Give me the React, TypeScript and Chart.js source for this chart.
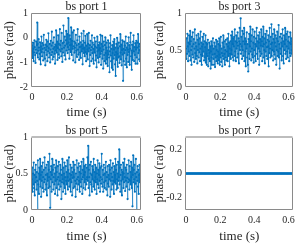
import { useEffect, useRef } from "react";
import { Chart, registerables } from "chart.js";

Chart.register(...registerables);

// ---- data ----
const SAMPLE_STEP_S = 0.002;
const X_MAX = 0.625;
const X_TICKS = [0, 0.2, 0.4, 0.6];

const TITLES = ["bs port 1", "bs port 3", "bs port 5", "bs port 7"];
const X_LABEL = "time (s)";
const Y_LABEL = "phase (rad)";

const PORT1 = [
  -0.3, -0.55, -0.82, -0.2, -0.45, -0.95, -0.6, -0.1, -0.38, -0.7,
  -1.02, -0.48, -0.15, -0.62, -0.3, 0.62, -0.25, -0.8, -0.52, -0.05,
  -0.4, -0.88, -0.65, -0.18, -0.5, -1.08, -0.35, 0.05, -0.58, -0.75,
  -0.22, -0.45, -0.92, -0.3, 0.12, -0.6, -0.4, -0.85, -1.12, -0.28,
  -0.5, -0.08, -0.7, -0.35, -0.95, -0.15, -0.55, 0.18, -0.42, -0.8,
  -0.62, -0.25, -1.0, -0.48, -0.12, -0.7, -0.32, 0.25, -0.58, -0.88,
  -0.2, -0.45, -0.78, 0.02, -0.38, -0.65, -1.05, -0.28, -0.52, 0.3,
  -0.35, -0.6, -0.15, -0.9, -0.42, 0.1, -0.68, -0.25, -0.82, -0.48,
  0.35, -0.3, -0.55, -0.12, -0.75, 0.2, -0.45, -0.98, -0.22, -0.6,
  0.5, -0.18, -0.4, -0.72, 0.05, -0.32, -0.88, -0.1, 0.28, -0.52,
  -0.25, 0.15, -0.62, -0.38, 0.8, -0.2, -0.48, -0.85, 0.1, -0.3,
  -0.05, -0.58, 0.42, -0.28, -0.7, -0.12, 0.22, -0.45, -0.92, -0.35,
  0.3, -0.15, -0.6, -0.4, -1.0, -0.22, 0.12, -0.52, -0.3, -0.78,
  -0.1, 0.35, -0.48, -0.68, -0.25, -0.9, 0.05, -0.38, -0.6, -0.18,
  -0.82, -0.35, 0.18, -0.55, -0.28, -1.08, -0.45, -0.12, 0.28, -0.62,
  -0.4, -0.75, -0.2, 0.08, -0.58, -0.95, -0.32, -0.65, 0.15, -0.48,
  -0.88, -0.25, -0.55, 0.2, -0.42, -1.15, -0.3, -0.7, -0.12, -0.5,
  -0.95, -0.38, 0.1, -0.62, -0.2, -0.85, -0.45, -1.05, -0.28, 0.0,
  -0.6, -0.35, -0.92, -0.15, -0.72, -1.2, -0.4, 0.05, -0.55, -0.82,
  -0.3, -1.0, -0.5, -0.18, -0.78, -0.42, 0.12, -0.65, -1.1, -0.25,
  -0.55, 0.08, -0.85, -0.35, -1.25, -0.48, -0.15, -0.7, -0.95, -0.3,
  0.02, -0.62, -1.05, -0.4, -0.2, -0.88, -0.52, -1.15, -0.1, -0.68,
  -0.38, -0.8, -1.4, -0.55, -0.22, 0.1, -0.72, -0.95, -0.45, -1.22,
  -0.3, -0.62, -1.3, -0.15, -0.85, -0.48, -0.05, -0.7, -1.08, -0.4,
  -1.55, -0.58, -0.25, -0.9, 0.0, -0.65, -1.18, -0.42, -0.8, -0.2,
  -0.75, -1.02, -0.35, 0.15, -0.6, -0.88, -0.28, -1.12, -0.5, -0.1,
  -0.68, -1.75, -0.45, -0.95, -0.15, -0.62, -0.32, -1.1, -0.5, 0.05,
  -0.85, -0.4, -1.2, -0.22, -0.7, -0.48, -0.98, 0.02, -0.58, -0.3,
  -1.1, -0.45, -0.18, 0.2, -0.75, -0.52, -1.3, -0.28, -0.62, -0.9,
  -0.15, 0.1, -0.55, -0.95, -0.38, -0.7, -0.22, -1.05, -0.48, -0.12,
  -0.8, -0.4, -1.05, -0.2, 0.15, -0.62, -0.35, -0.88, -0.5, -0.25,
  -0.95, -0.55, -0.72,
];

const PORT3 = [
  0.52, 0.38, 0.66, 0.45, 0.72, 0.55, 0.35, 0.6, 0.48, 0.7,
  0.42, 0.58, 0.76, 0.36, 0.62, 0.5, 0.3, 0.68, 0.55, 0.44,
  0.74, 0.4, 0.58, 0.65, 0.34, 0.52, 0.78, 0.46, 0.6, 0.38,
  0.55, 0.7, 0.42, 0.32, 0.64, 0.5, 0.72, 0.4, 0.58, 0.47,
  0.66, 0.35, 0.52, 0.75, 0.44, 0.6, 0.3, 0.55, 0.68, 0.42,
  0.58, 0.48, 0.72, 0.36, 0.62, 0.4, 0.54, 0.7, 0.33, 0.6,
  0.45, 0.3, 0.58, 0.42, 0.64, 0.28, 0.5, 0.38, 0.6, 0.46,
  0.35, 0.55, 0.25, 0.48, 0.62, 0.4, 0.3, 0.56, 0.44, 0.66,
  0.38, 0.52, 0.3, 0.6, 0.45, 0.27, 0.55, 0.4, 0.64, 0.35,
  0.5, 0.42, 0.62, 0.32, 0.48, 0.58, 0.36, 0.66, 0.44, 0.3,
  0.56, 0.4, 0.68, 0.34, 0.52, 0.46, 0.28, 0.6, 0.42, 0.7,
  0.38, 0.54, 0.45, 0.62, 0.3, 0.5, 0.4, 0.64, 0.36, 0.58,
  0.48, 0.66, 0.35, 0.55, 0.72, 0.42, 0.6, 0.28, 0.52, 0.45,
  0.62, 0.38, 0.7, 0.5, 0.44, 0.75, 0.4, 0.58, 0.66, 0.36,
  0.55, 0.68, 0.42, 0.78, 0.48, 0.62, 0.35, 0.7, 0.52, 0.6,
  0.4, 0.74, 0.56, 0.45, 0.66, 0.32, 0.62, 0.8, 0.5, 0.58,
  0.93, 0.45, 0.68, 0.55, 0.38, 0.76, 0.5, 0.62, 0.42, 0.72,
  0.8, 0.35, 0.58, 0.66, 0.48, 0.28, 0.62, 0.52, 0.74, 0.4,
  0.58, 0.3, 0.21, 0.65, 0.45, 0.72, 0.38, 0.55, 0.82, 0.48,
  0.62, 0.36, 0.7, 0.52, 0.44, 0.78, 0.4, 0.6, 0.33, 0.68,
  0.5, 0.75, 0.42, 0.58, 0.35, 0.66, 0.55, 0.8, 0.45, 0.62,
  0.38, 0.7, 0.52, 0.6, 0.3, 0.74, 0.48, 0.65, 0.42, 0.56,
  0.78, 0.45, 0.62, 0.35, 0.68, 0.55, 0.82, 0.4, 0.58, 0.5,
  0.66, 0.32, 0.72, 0.48, 0.6, 0.42, 0.76, 0.54, 0.38, 0.64,
  0.55, 0.7, 0.28, 0.62, 0.46, 0.8, 0.52, 0.4, 0.68, 0.58,
  0.85, 0.42, 0.6, 0.5, 0.72, 0.36, 0.65, 0.48, 0.78, 0.44,
  0.6, 0.38, 0.7, 0.55, 0.3, 0.66, 0.5, 0.75, 0.42, 0.62,
  0.48, 0.84, 0.4, 0.58, 0.25, 0.68, 0.52, 0.45, 0.72, 0.6,
  0.36, 0.66, 0.55, 0.78, 0.42, 0.62, 0.32, 0.7, 0.5, 0.58,
  0.8, 0.45, 0.64, 0.38, 0.72, 0.55, 0.48, 0.75, 0.4, 0.62,
  0.52, 0.68, 0.35, 0.6, 0.46, 0.74, 0.42, 0.58, 0.66, 0.5,
  0.45, 0.62, 0.55,
];

const PORT5 = [
  0.42, 0.58, 0.25, 0.5, 0.35, 0.65, 0.3, 0.48, 0.2, 0.55,
  0.38, 0.62, 0.45, 0.28, 0.52, 0.4, 0.0, 0.68, 0.35, 0.5,
  0.22, 0.58, 0.42, 0.7, 0.32, 0.48, 0.18, 0.6, 0.4, 0.52,
  0.3, 0.65, 0.45, 0.25, 0.55, 0.38, 0.72, 0.42, 0.28, 0.58,
  0.48, 0.35, 0.62, 0.2, 0.5, 0.4, 0.66, 0.3, 0.55, 0.45,
  0.77, 0.32, 0.03, 0.52, 0.42, 0.6, 0.25, 0.48, 0.7, 0.38,
  0.55, 0.28, 0.45, 0.62, 0.35, 0.5, 0.22, 0.58, 0.4, 0.68,
  0.3, 0.52, 0.42, 0.2, 0.6, 0.45, 0.35, 0.66, 0.28, 0.5,
  0.4, 0.62, 0.32, 0.55, 0.15, 0.48, 0.38, 0.7, 0.42, 0.25,
  0.58, 0.36, 0.5, 0.65, 0.3, 0.45, 0.22, 0.6, 0.4, 0.52,
  0.35, 0.68, 0.45, 0.28, 0.55, 0.4, 0.72, 0.32, 0.5, 0.42,
  0.62, 0.25, 0.48, 0.38, 0.58, 0.2, 0.52, 0.44, 0.66, 0.3,
  0.45, 0.55, 0.32, 0.62, 0.4, 0.18, 0.5, 0.36, 0.68, 0.42,
  0.28, 0.58, 0.45, 0.35, 0.64, 0.4, 0.52, 0.25, 0.6, 0.38,
  0.5, 0.32, 0.66, 0.42, 0.22, 0.55, 0.45, 0.7, 0.3, 0.48,
  0.6, 0.38, 0.52, 0.28, 0.62, 0.42, 0.35, 0.58, 0.45, 0.72,
  0.4, 0.88, 0.3, 0.55, 0.45, 0.2, 0.62, 0.38, 0.5, 0.66,
  0.35, 0.48, 0.25, 0.6, 0.42, 0.55, 0.32, 0.7, 0.4, 0.52,
  0.28, 0.62, 0.45, 0.38, 0.58, 0.22, 0.5, 0.42, 0.68, 0.35,
  0.55, 0.3, 0.48, 0.64, 0.4, 0.25, 0.58, 0.45, 0.36, 0.6,
  0.77, 0.42, 0.32, 0.55, 0.25, 0.48, 0.62, 0.38, 0.5, 0.3,
  0.58, 0.4, 0.66, 0.28, 0.52, 0.45, 0.2, 0.6, 0.36, 0.48,
  0.32, 0.62, 0.42, 0.55, 0.18, 0.68, 0.4, 0.5, 0.28, 0.58,
  0.45, 0.35, 0.64, 0.4, 0.52, 0.22, 0.6, 0.38, 0.48, 0.7,
  0.36, 0.55, 0.28, 0.62, 0.42, 0.5, 0.3, 0.66, 0.4, 0.45,
  0.83, 0.35, 0.58, 0.25, 0.48, 0.62, 0.4, 0.55, 0.2, 0.52,
  0.42, 0.65, 0.3, 0.5, 0.38, 0.7, 0.45, 0.26, 0.58, 0.4,
  0.55, 0.32, 0.62, 0.44, 0.15, 0.5, 0.38, 0.68, 0.42, 0.28,
  0.6, 0.4, 0.52, 0.35, 0.66, 0.45, 0.3, 0.58, 0.05, 0.48,
  0.75, 0.38, 0.55, 0.42, 0.62, 0.25, 0.5, 0.36, 0.7, 0.45,
  0.0, 0.52, 0.4, 0.6, 0.32, 0.55, 0.22, 0.48, 0.62, 0.38,
  0.5, 0.42, 0.58,
];

const PORT7 = [
  0, 0, 0, 0, 0, 0, 0, 0, 0, 0, 0, 0, 0, 0, 0, 0, 0, 0, 0, 0,
  0, 0, 0, 0, 0, 0, 0, 0, 0, 0, 0, 0, 0, 0, 0, 0, 0, 0, 0, 0,
  0, 0, 0, 0, 0, 0, 0, 0, 0, 0, 0, 0, 0, 0, 0, 0, 0, 0, 0, 0,
  0, 0, 0, 0, 0, 0, 0, 0, 0, 0, 0, 0, 0, 0, 0, 0, 0, 0, 0, 0,
  0, 0, 0, 0, 0, 0, 0, 0, 0, 0, 0, 0, 0, 0, 0, 0, 0, 0, 0, 0,
  0, 0, 0, 0, 0, 0, 0, 0, 0, 0, 0, 0, 0, 0, 0, 0, 0, 0, 0, 0,
  0, 0, 0, 0, 0, 0, 0, 0, 0, 0, 0, 0, 0, 0, 0, 0, 0, 0, 0, 0,
  0, 0, 0, 0, 0, 0, 0, 0, 0, 0, 0, 0, 0, 0, 0, 0, 0, 0, 0, 0,
  0, 0, 0, 0, 0, 0, 0, 0, 0, 0, 0, 0, 0, 0, 0, 0, 0, 0, 0, 0,
  0, 0, 0, 0, 0, 0, 0, 0, 0, 0, 0, 0, 0, 0, 0, 0, 0, 0, 0, 0,
  0, 0, 0, 0, 0, 0, 0, 0, 0, 0, 0, 0, 0, 0, 0, 0, 0, 0, 0, 0,
  0, 0, 0, 0, 0, 0, 0, 0, 0, 0, 0, 0, 0, 0, 0, 0, 0, 0, 0, 0,
  0, 0, 0, 0, 0, 0, 0, 0, 0, 0, 0, 0, 0, 0, 0, 0, 0, 0, 0, 0,
  0, 0, 0, 0, 0, 0, 0, 0, 0, 0, 0, 0, 0, 0, 0, 0, 0, 0, 0, 0,
  0, 0, 0, 0, 0, 0, 0, 0, 0, 0, 0, 0, 0, 0, 0, 0, 0, 0, 0, 0,
  0, 0, 0, 0, 0, 0, 0, 0, 0, 0, 0, 0, 0,
];

const Y_TICKS_1 = [-2, -1, 0, 1];
const Y_TICKS_3 = [0, 0.5, 1];
const Y_TICKS_5 = [0, 0.5, 1];
const Y_TICKS_7 = [-0.2, 0, 0.2];
const Y_RANGE_1 = [-2, 1];
const Y_RANGE_3 = [0, 1];
const Y_RANGE_5 = [0, 1];
const Y_RANGE_7 = [-0.3, 0.3];

const TIME = PORT1.map((_, i) => i * SAMPLE_STEP_S);

// ---- layout / style ----
const FONT = "'Liberation Serif', 'Times New Roman', serif";
const TEXT = "#262626";
const LINE = "#0072BD";

type PanelLayout = {
  left: number; top: number; w: number; h: number;
  aL: number; aT: number; aR: number; aB: number;
  xTitlePad: number; topEdge: number;
};

const LAYOUTS: PanelLayout[] = [
  { left: 0, top: 0, w: 150, h: 122, aL: 32, aT: 13, aR: 141, aB: 87, xTitlePad: 2.5, topEdge: 1 },
  { left: 150, top: 0, w: 149, h: 122, aL: 36, aT: 13, aR: 144, aB: 87, xTitlePad: 2.5, topEdge: 1 },
  { left: 0, top: 122, w: 150, h: 122, aL: 32, aT: 15, aR: 141, aB: 88, xTitlePad: 0.5, topEdge: 2 },
  { left: 150, top: 122, w: 149, h: 122, aL: 36, aT: 15, aR: 144, aB: 88, xTitlePad: 0.5, topEdge: 2 },
];

const SERIES = [PORT1, PORT3, PORT5, PORT7];
const Y_TICKS = [Y_TICKS_1, Y_TICKS_3, Y_TICKS_5, Y_TICKS_7];
const Y_RANGES = [Y_RANGE_1, Y_RANGE_3, Y_RANGE_5, Y_RANGE_7];

const boxPlugin = {
  id: "matlabBox",
  afterDraw(chart: any, _args: any, opts: any) {
    const { ctx, chartArea: a } = chart;
    ctx.save();
    const l = Math.round(a.left) - 0.5;
    const r = Math.round(a.right) - 0.5;
    const t = Math.round(a.top) + 0.5;
    const b = Math.round(a.bottom) - 0.5;
    ctx.strokeStyle = "#8a8a8a";
    ctx.lineWidth = 1;
    ctx.beginPath();
    ctx.moveTo(l, t);
    ctx.lineTo(l, b);
    ctx.lineTo(r, b);
    ctx.lineTo(r, t);
    ctx.stroke();
    ctx.beginPath();
    if (opts && opts.topEdge === 2) {
      ctx.strokeStyle = "#bdbdbd";
      ctx.lineWidth = 2;
      ctx.moveTo(l, t - 0.5);
      ctx.lineTo(r, t - 0.5);
    } else {
      ctx.moveTo(l, t);
      ctx.lineTo(r, t);
    }
    ctx.stroke();
    ctx.restore();
  },
};

function Panel({ idx }: { idx: number }) {
  const ref = useRef<HTMLCanvasElement | null>(null);
  const L = LAYOUTS[idx];
  useEffect(() => {
    if (!ref.current) return;
    const values = SERIES[idx];
    const yTicks = Y_TICKS[idx];
    const [yMin, yMax] = Y_RANGES[idx];
    const titleBlock = 12 * 1.1;
    const chart = new Chart(ref.current, {
      type: "line",
      data: {
        datasets: [
          {
            data: values.map((v, i) => ({ x: TIME[i], y: v })),
            borderColor: LINE,
            borderWidth: 0.6,
            pointRadius: 1.1,
            pointBorderWidth: 0,
            pointBackgroundColor: LINE,
            tension: 0,
          },
        ],
      },
      options: {
        responsive: false,
        animation: false,
        devicePixelRatio: 1,
        layout: { padding: { left: 0, top: 0, bottom: 0, right: L.w - L.aR } },
        plugins: {
          legend: { display: false },
          tooltip: { enabled: false },
          title: {
            display: true,
            text: TITLES[idx],
            fullSize: false,
            color: TEXT,
            font: { family: FONT, size: 12, weight: "normal", lineHeight: 1.1 },
            padding: { top: Math.max(0, L.aT - titleBlock), bottom: 0 },
          },
          matlabBox: { topEdge: L.topEdge },
        } as any,
        scales: {
          x: {
            type: "linear",
            min: 0,
            max: X_MAX,
            grid: { display: false, drawTicks: false },
            border: { display: false },
            afterBuildTicks: (s: any) => {
              s.ticks = X_TICKS.map((v) => ({ value: v }));
            },
            afterFit: (s: any) => {
              s.height = L.h - L.aB;
            },
            ticks: {
              color: TEXT,
              padding: 4,
              maxRotation: 0,
              font: { family: FONT, size: 10 },
              callback: (v: any) => String(v),
            },
            title: {
              display: true,
              text: X_LABEL,
              color: TEXT,
              font: { family: FONT, size: 13, lineHeight: 1 },
              padding: { top: 0, bottom: L.xTitlePad },
            },
          },
          y: {
            type: "linear",
            min: yMin,
            max: yMax,
            grid: { display: false, drawTicks: false },
            border: { display: false },
            afterBuildTicks: (s: any) => {
              s.ticks = yTicks.map((v) => ({ value: v }));
            },
            afterFit: (s: any) => {
              s.width = L.aL;
            },
            ticks: {
              color: TEXT,
              padding: 4,
              font: { family: FONT, size: 10 },
              callback: (v: any) => String(v),
            },
            title: {
              display: true,
              text: Y_LABEL,
              color: TEXT,
              font: { family: FONT, size: 13, lineHeight: 1 },
              padding: { top: 3.5, bottom: 0 },
            },
          },
        },
      },
      plugins: [boxPlugin],
    } as any);
    return () => chart.destroy();
  }, [idx]);
  return (
    <canvas
      ref={ref}
      width={L.w}
      height={L.h}
      style={{ position: "absolute", left: L.left, top: L.top, width: L.w, height: L.h }}
    />
  );
}

export default function App() {
  return (
    <div style={{ position: "absolute", left: 0, top: 0, width: 299, height: 244, background: "#fff" }}>
      {LAYOUTS.map((_, i) => (
        <Panel key={i} idx={i} />
      ))}
    </div>
  );
}
